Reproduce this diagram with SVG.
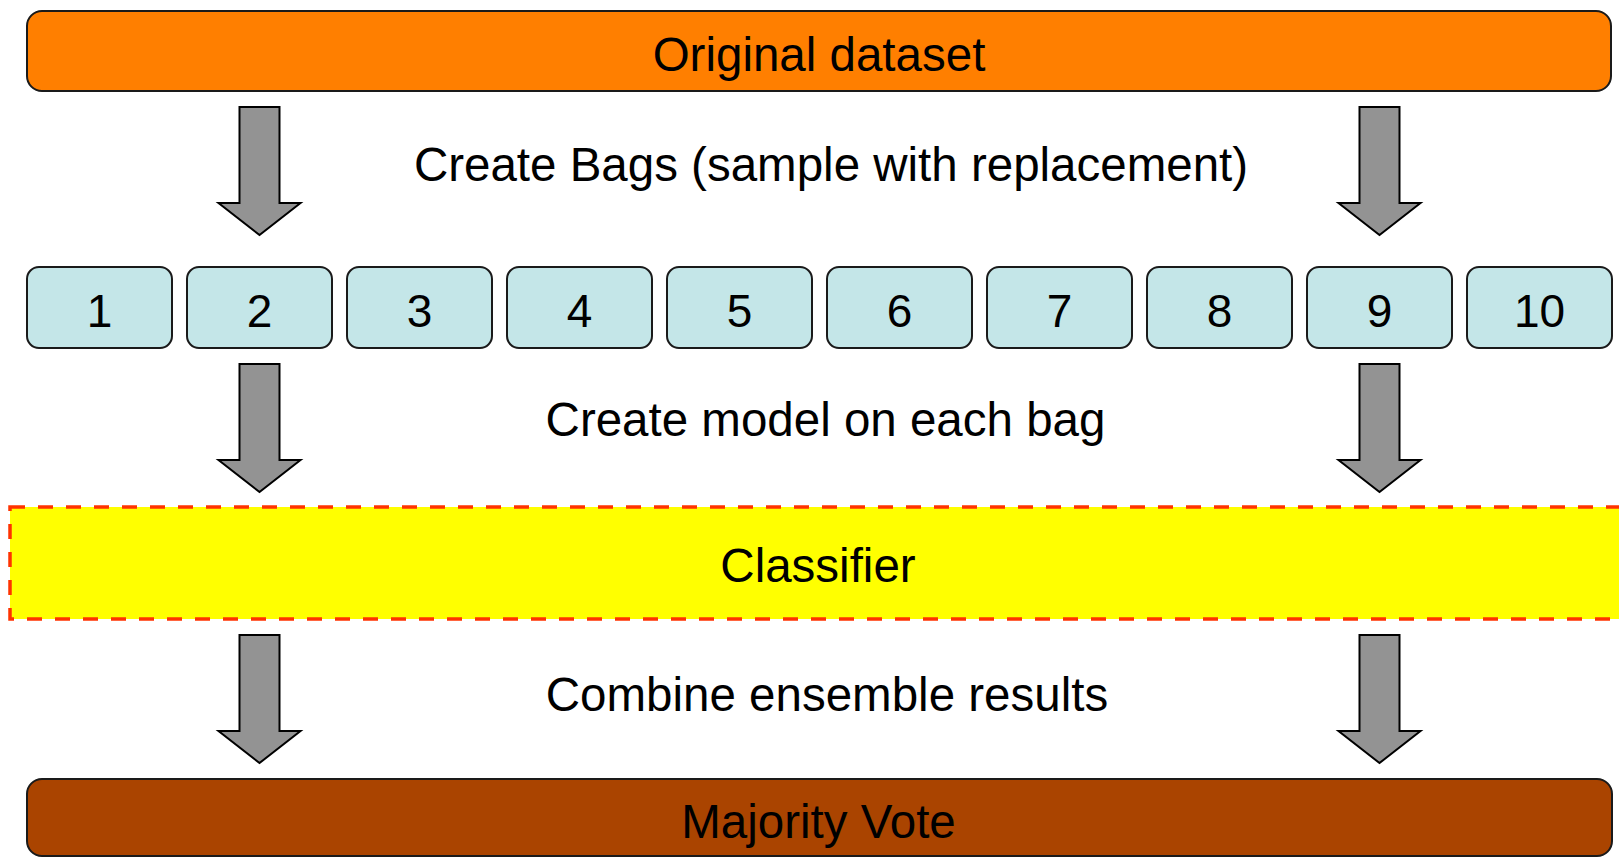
<svg xmlns="http://www.w3.org/2000/svg" width="1619" height="857" viewBox="0 0 1619 857" font-family="'Liberation Sans', Arimo, Arial, Helvetica, sans-serif">
<defs>
<style>
text{font-family:'Liberation Sans',Arimo,Arial,Helvetica,sans-serif;fill:#000;text-anchor:middle}
.big{font-size:47.5px}
.num{font-size:46px}
.bag{fill:#C4E6E8;stroke:#1a1a1a;stroke-width:2}
.arr{fill:#939393;stroke:#000;stroke-width:2;stroke-linejoin:miter}
</style>
<path id="arrow" d="M-20,0 H20 V96 H41 L0,128 L-41,96 H-20 Z"/>
</defs>
<rect width="1619" height="857" fill="#fff"/>
<g id="original">
<rect x="27" y="11" width="1584" height="80" rx="15" fill="#FF7F00" stroke="#1a1a1a" stroke-width="2"/>
<text class="big" x="819" y="71">Original dataset</text>
</g>
<g id="bags">
<g id="bag1"><rect class="bag" x="27" y="267" width="145" height="81" rx="12"/><text class="num" x="99.5" y="327">1</text></g>
<g id="bag2"><rect class="bag" x="187" y="267" width="145" height="81" rx="12"/><text class="num" x="259.5" y="327">2</text></g>
<g id="bag3"><rect class="bag" x="347" y="267" width="145" height="81" rx="12"/><text class="num" x="419.5" y="327">3</text></g>
<g id="bag4"><rect class="bag" x="507" y="267" width="145" height="81" rx="12"/><text class="num" x="579.5" y="327">4</text></g>
<g id="bag5"><rect class="bag" x="667" y="267" width="145" height="81" rx="12"/><text class="num" x="739.5" y="327">5</text></g>
<g id="bag6"><rect class="bag" x="827" y="267" width="145" height="81" rx="12"/><text class="num" x="899.5" y="327">6</text></g>
<g id="bag7"><rect class="bag" x="987" y="267" width="145" height="81" rx="12"/><text class="num" x="1059.5" y="327">7</text></g>
<g id="bag8"><rect class="bag" x="1147" y="267" width="145" height="81" rx="12"/><text class="num" x="1219.5" y="327">8</text></g>
<g id="bag9"><rect class="bag" x="1307" y="267" width="145" height="81" rx="12"/><text class="num" x="1379.5" y="327">9</text></g>
<g id="bag10"><rect class="bag" x="1467" y="267" width="145" height="81" rx="12"/><text class="num" x="1539.5" y="327">10</text></g>
</g>
<g id="classifier">
<rect x="10" y="507" width="1640" height="112" fill="#FFFF00" stroke="#FF3300" stroke-width="3.5" stroke-dasharray="15 13"/>
<text class="big" x="818" y="582">Classifier</text>
</g>
<g id="vote">
<rect x="27" y="779" width="1585" height="77" rx="15" fill="#AA4400" stroke="#1a1a1a" stroke-width="2"/>
<text class="big" x="818.5" y="838">Majority Vote</text>
</g>
<g id="connectors">
<use href="#arrow" class="arr" x="259.5" y="107"/>
<use href="#arrow" class="arr" x="1379.5" y="107"/>
<use href="#arrow" class="arr" x="259.5" y="364"/>
<use href="#arrow" class="arr" x="1379.5" y="364"/>
<use href="#arrow" class="arr" x="259.5" y="635"/>
<use href="#arrow" class="arr" x="1379.5" y="635"/>
<text class="big" x="831" y="181">Create Bags (sample with replacement)</text>
<text class="big" x="825.5" y="436">Create model on each bag</text>
<text class="big" x="827" y="711">Combine ensemble results</text>
</g>
</svg>
